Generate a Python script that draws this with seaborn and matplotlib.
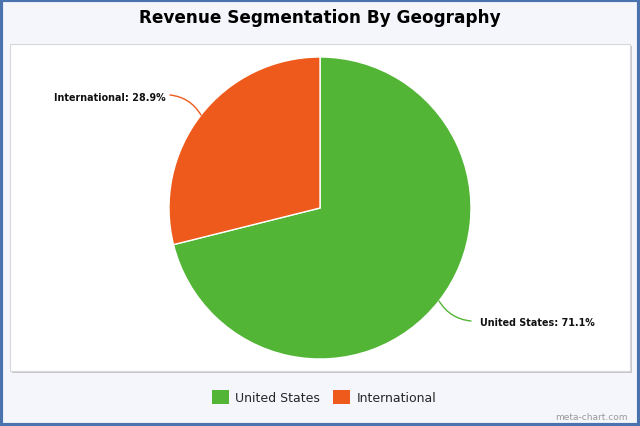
import numpy as np
import matplotlib
matplotlib.use("Agg")
import matplotlib.pyplot as plt
from matplotlib.patches import Rectangle, Patch
import seaborn as sns

# data
labels = ["United States", "International"]
shares = [71.1, 28.9]
colors = ["#53b536", "#ee5a1c"]
title = "Revenue Segmentation By Geography"

W, H = 640, 427
sns.set_style("white")
plt.rcParams["font.family"] = ["DejaVu Sans"]

fig = plt.figure(figsize=(W / 100, H / 100), dpi=100)
fig.patch.set_facecolor("#f5f6fc")


def px(x0, y0, x1, y1):
    """pixel box (top-left origin) -> figure fraction rect"""
    return [x0 / W, 1 - y1 / H, (x1 - x0) / W, (y1 - y0) / H]


# outer blue frame
fig.patches.append(Rectangle((0.002, 0.003), 0.996, 0.994, transform=fig.transFigure,
                             fill=False, edgecolor="#4a72ad", linewidth=3, zorder=-5))
# panel shadow + panel
l, b, w, h = px(12, 47, 632, 374)
fig.patches.append(Rectangle((l, b), w, h, transform=fig.transFigure,
                             facecolor="#c8c8cc", edgecolor="none", zorder=-5))
l, b, w, h = px(10, 45, 630, 372)
fig.patches.append(Rectangle((l, b), w, h, transform=fig.transFigure,
                             facecolor="white", edgecolor="#d8d8dc", linewidth=0.8, zorder=-4))

# pie axes covering the panel, 151 px per unit radius, centre at (320, 209)
ax = fig.add_axes(px(10, 45, 630, 372))
ax.set_zorder(2)
ax.set_facecolor("none")
r = 151.0
cx, cy = 320, 209

start = 90 + 360 * shares[1] / sum(shares)
wedges, _ = ax.pie(shares, colors=colors, startangle=start, counterclock=True,
                   radius=1, center=(0, 0), frame=True,
                   wedgeprops=dict(edgecolor="white", linewidth=1))
ax.set_xlim(-(cx - 10) / r, (630 - cx) / r)
ax.set_ylim(-(372 - cy) / r, (cy - 45) / r)
ax.set_aspect("auto")
ax.axis("off")

# labels with connectors
for wdg, lab, val, clr in zip(wedges, labels, shares, colors):
    mid = np.deg2rad((wdg.theta1 + wdg.theta2) / 2)
    ex, ey = np.cos(mid), np.sin(mid)
    if ex < 0:
        txy = ((170 - cx) / r, (cy - 96) / r)
        ha = "right"
        tx = ((166 - cx) / r, (cy - 98) / r)
        rad = -0.25
    else:
        txy = ((471 - cx) / r, (cy - 322) / r)
        ha = "left"
        tx = ((480 - cx) / r, (cy - 323) / r)
        rad = -0.25
    ax.annotate("", xy=(ex, ey), xytext=txy,
                arrowprops=dict(arrowstyle="-", color=clr, lw=1,
                                connectionstyle=f"arc3,rad={rad}", shrinkA=0, shrinkB=0))
    ax.text(tx[0], tx[1], f"{lab}: {val}%", ha=ha, va="center",
            fontsize=6.9, fontweight="bold", color="#111111")

fig.text(0.5, 1 - 18 / H, title, ha="center", va="center",
         fontsize=12.2, fontweight="bold", color="black")

handles = [Patch(facecolor=c, edgecolor="none") for c in colors]
fig.legend(handles, labels, loc="center", bbox_to_anchor=(324 / W, 1 - 398 / H),
           ncol=2, frameon=False, fontsize=9, handlelength=1.4, handleheight=1.4,
           handletextpad=0.5, columnspacing=1.0)

fig.text(628 / W, 1 - 418 / H, "meta-chart.com", ha="right", va="center",
         fontsize=6.5, color="#999999")

fig.savefig("out.png", dpi=100, facecolor=fig.get_facecolor())
